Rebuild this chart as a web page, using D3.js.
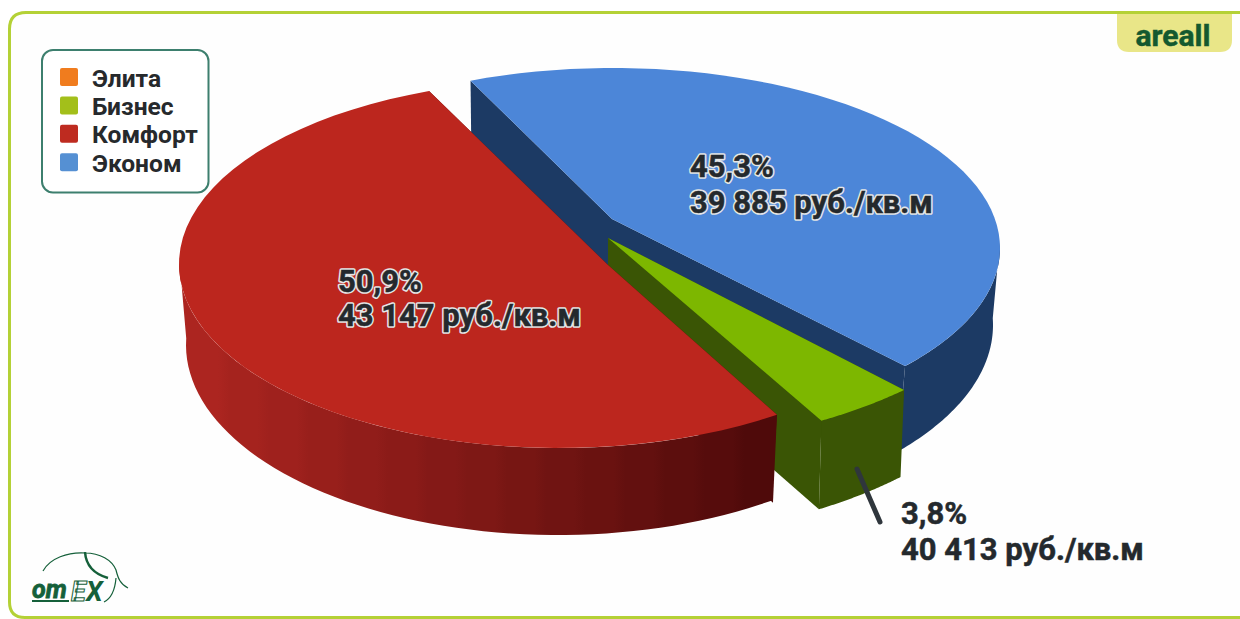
<!DOCTYPE html>
<html><head><meta charset="utf-8">
<style>html,body{margin:0;padding:0;background:#fff}svg{display:block}text{font-family:Roboto,"Open Sans",sans-serif;font-weight:700}</style>
<script src="https://d3js.org/d3.v7.min.js"></script></head><body>
<svg id="c" width="1240" height="619"></svg>
<script>
const legendNames = ["Элита","Бизнес","Комфорт","Эконом"];
const legendColors = ["#F07C1E","#A3BF1A","#BE2B20","#5590D3"];
const sliceNames = ["Эконом","Бизнес","Комфорт"];
const shares = [45.3,3.8,50.9];
const prices = ["39 885","40 413","43 147"];
const shareLabels = ["45,3%","3,8%","50,9%"];
const unit = "руб./кв.м";

const deg = Math.PI/180;
// drawing geometry of the exploded, perspective pie (per slice)
const layout = {
  "Эконом":{apex:[612,219],depth:88,cut:[1,88],top:{c:[613,248],a:387,b:180},bot:{c:[605,325],a:388,b:193},p:[-111.6,41],wall:[-2,41],
    face:"#4C86D8",dark:"#1C3A64",wallColors:null},
  "Бизнес":{apex:[608,238],depth:87,cut:[-8,85],top:{c:[600,245],a:430,b:205},bot:{c:[600,325],a:425,b:215},p:[45,59],wall:[45,59],
    face:"#7DB700",dark:"#3A5505",wallColors:null},
  "Комфорт":{apex:[608,265],depth:88,cut:[-4,88],top:{c:[559,264],a:380,b:184},bot:{c:[558,345],a:372,b:190},p:[55,250],wall:[55,182],
    face:"#BC261E",dark:"#4F0A0A",wallColors:["#AC2520","#4F0A0A"],wallX:[184,778]}
};

const svg = d3.select("#c");
const defs = svg.append("defs");
svg.append("rect").attr("width",1240).attr("height",619).attr("fill","#fff");
svg.append("path").attr("d","M1240 12.5H26Q9.5 12.5 9.5 29V602Q9.5 617.5 25 617.5H1240")
  .attr("fill","#fefefe").attr("stroke","#B4D136").attr("stroke-width",3);

const pie = d3.pie().sort(null).value(d=>d.v).startAngle(0).endAngle(2*Math.PI);
const arcs = pie(sliceNames.map((n,i)=>({n,v:shares[i],i})));
const line = d3.line();
const pt = (e,p)=>[e.c[0]+e.a*Math.cos(p*deg), e.c[1]+e.b*Math.sin(p*deg)];
const samples = (e,p0,p1,n=60)=>d3.range(n+1).map(i=>pt(e,p0+(p1-p0)*i/n));

function wallFill(L,id){
  if(!L.wallColors) return L.dark;
  const n=15, col=d3.scaleLinear().domain([0,n-1]).range(L.wallColors);
  const gr=defs.append("linearGradient").attr("id",id).attr("gradientUnits","userSpaceOnUse")
    .attr("x1",L.wallX[0]).attr("x2",L.wallX[1]).attr("y1",0).attr("y2",0);
  d3.range(n).forEach(i=>{
    gr.append("stop").attr("offset",(i+0.15)/n).attr("stop-color",col(i));
    gr.append("stop").attr("offset",(i+0.85)/n).attr("stop-color",col(i));
  });
  return `url(#${id})`;
}

function drawSlice(a){
  const L = layout[a.data.n];
  const param = d3.scaleLinear().domain([a.startAngle,a.endAngle]).range(L.p);
  const p0 = param(a.startAngle), p1 = param(a.endAngle);
  const g = svg.append("g").attr("class","slice").attr("data-name",a.data.n);
  const apexB = [L.apex[0],L.apex[1]+L.depth];
  const t0 = pt(L.top,p0);
  const t0B = [t0[0]+L.cut[0],t0[1]+L.cut[1]];
  // cut faces
  g.append("path").attr("d",line([L.apex,t0,t0B,apexB])+"Z").attr("fill",L.dark);
  g.append("path").attr("d",line([L.apex,pt(L.top,p1),pt(L.bot,p1),apexB])+"Z").attr("fill",L.dark);
  // outer wall
  g.append("path").attr("d",line(samples(L.top,L.wall[0],L.wall[1]).concat(samples(L.bot,L.wall[1],L.wall[0])))+"Z")
    .attr("fill",wallFill(L,"w"+a.data.i));
  // top face
  g.append("path").attr("d",line([L.apex].concat(samples(L.top,p0,p1)))+"Z").attr("fill",L.face);
}
arcs.forEach(drawSlice);

// leader
svg.append("line").attr("x1",857).attr("y1",469).attr("x2",880).attr("y2",522)
  .attr("stroke","#2F363C").attr("stroke-width",5).attr("stroke-linecap","round");

// labels
const labelPos = {"Эконом":[690,177,213,true],"Бизнес":[901,524,560,false],"Комфорт":[338,292,326,true]};
arcs.forEach(a=>{
  const [x,y1,y2,halo]=labelPos[a.data.n], i=a.data.i;
  [[shareLabels[i],y1],[prices[i]+" "+unit,y2]].forEach(([t,y])=>{
    if(halo) svg.append("text").attr("x",x).attr("y",y).attr("font-size",31).attr("fill","none")
      .attr("stroke","#E4E6E6").attr("stroke-width",3.6).attr("stroke-linejoin","round").text(t);
    svg.append("text").attr("x",x).attr("y",y).attr("font-size",31).attr("fill","#24292D")
      .attr("stroke","#24292D").attr("stroke-width",.5).text(t);
  });
});

// legend
const lg = svg.append("g");
lg.append("rect").attr("x",42).attr("y",50).attr("width",166.5).attr("height",142.5).attr("rx",11)
  .attr("fill","#fff").attr("stroke","#3D7F6E").attr("stroke-width",2);
legendNames.forEach((n,i)=>{
  const y=68+i*28.4;
  lg.append("rect").attr("x",60).attr("y",y).attr("width",18).attr("height",18).attr("rx",2).attr("fill",legendColors[i]);
  lg.append("text").attr("x",92).attr("y",y+18.5).attr("font-size",24.6).attr("fill","#26292C").text(n);
});

// badge
svg.append("path").attr("d","M1117 14H1232V40Q1232 52 1220 52H1129Q1117 52 1117 40Z").attr("fill","#E9E688");
svg.append("text").attr("x",1173).attr("y",46).attr("text-anchor","middle").attr("font-size",30).attr("fill","#14592F").attr("stroke","#14592F").attr("stroke-width",.5).text("areall");

// logo
const logo = svg.append("g").attr("fill","none").attr("stroke","#15603A");
logo.append("path").attr("d","M43 571C50 558 68 552 85 553C100 553 112 560 116 570C118 578 120 584 128 588").attr("stroke-width",1.2);
logo.append("path").attr("d","M85 552C86 566 94 574 108 578").attr("stroke-width",2.5);
logo.append("path").attr("d","M116 578C115 590 112 598 104 602").attr("stroke-width",1.2);
svg.append("text").attr("x",32).attr("y",598).attr("font-size",25).attr("font-style","italic").attr("fill","#15603A").attr("stroke","#15603A").attr("stroke-width",.8).text("om");
svg.append("text").attr("x",71).attr("y",601).attr("font-size",27).attr("font-style","italic").attr("fill","#fff").attr("stroke","#15603A").attr("stroke-width",1).text("E");
svg.append("text").attr("x",86).attr("y",601).attr("font-size",27).attr("font-style","italic").attr("fill","#15603A").text("X");
svg.append("rect").attr("x",32).attr("y",600).attr("width",37).attr("height",2).attr("fill","#15603A");
</script></body></html>
